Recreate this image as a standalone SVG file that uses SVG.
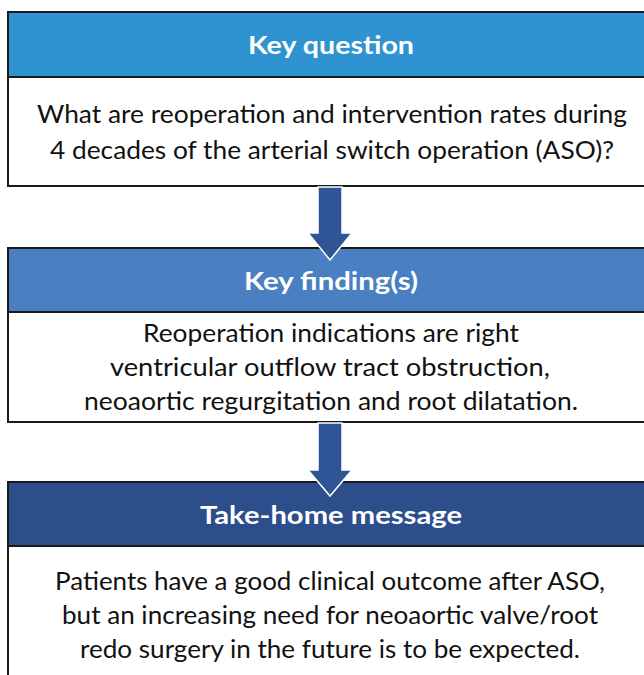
<svg xmlns="http://www.w3.org/2000/svg" width="644" height="675" viewBox="0 0 644 675">
<style>
.frame{fill:#ffffff;stroke:#1a1a1a;stroke-width:2}
.hd{stroke:#1a1a1a;stroke-width:2}
.ht{font-family:Lato,"Open Sans",sans-serif;font-weight:bold;font-size:25px;fill:#ffffff;text-anchor:middle}
.bt{font-family:Lato,"Open Sans",sans-serif;font-size:25px;fill:#111111;text-anchor:middle}
.arrow{fill:#2F5597;stroke:#ffffff;stroke-width:1.5;stroke-linejoin:miter}
</style>
<rect width="644" height="675" fill="#ffffff"/>
<g id="key-question">
<rect class="frame" x="8" y="12" width="650" height="174"/>
<rect class="hd" x="8" y="12" width="650" height="65" fill="#2E93D0"/>
<text class="ht" x="331" y="54" textLength="166" lengthAdjust="spacingAndGlyphs">Key question</text>
<text class="bt" x="332" y="123" textLength="590" lengthAdjust="spacingAndGlyphs">What are reoperation and intervention rates during</text>
<text class="bt" x="332" y="159" textLength="564" lengthAdjust="spacingAndGlyphs">4 decades of the arterial switch operation (ASO)?</text>
</g>
<g id="key-findings">
<rect class="frame" x="8" y="248" width="650" height="174"/>
<rect class="hd" x="8" y="248" width="650" height="64" fill="#4A7FC1"/>
<text class="ht" x="331" y="290" textLength="174" lengthAdjust="spacingAndGlyphs">Key finding(s)</text>
<text class="bt" x="331" y="342" textLength="376" lengthAdjust="spacingAndGlyphs">Reoperation indications are right</text>
<text class="bt" x="330" y="376" textLength="440" lengthAdjust="spacingAndGlyphs">ventricular outflow tract obstruction,</text>
<text class="bt" x="331" y="410" textLength="494" lengthAdjust="spacingAndGlyphs">neoaortic regurgitation and root dilatation.</text>
</g>
<g id="take-home">
<rect class="frame" x="8" y="482" width="650" height="210"/>
<rect class="hd" x="8" y="482" width="650" height="64" fill="#2C4F8B"/>
<text class="ht" x="331" y="524" textLength="262" lengthAdjust="spacingAndGlyphs">Take-home message</text>
<text class="bt" x="330" y="590" textLength="550" lengthAdjust="spacingAndGlyphs">Patients have a good clinical outcome after ASO,</text>
<text class="bt" x="330" y="624" textLength="536" lengthAdjust="spacingAndGlyphs">but an increasing need for neoaortic valve/root</text>
<text class="bt" x="330" y="658" textLength="500" lengthAdjust="spacingAndGlyphs">redo surgery in the future is to be expected.</text>
</g>
<g id="connectors">
<polygon class="arrow" points="318,187 342,187 342,233 352,233 330,260 308,233 318,233"/>
<polygon class="arrow" points="318,423 342,423 342,470 352,470 330,496 308,470 318,470"/>
</g>
</svg>
